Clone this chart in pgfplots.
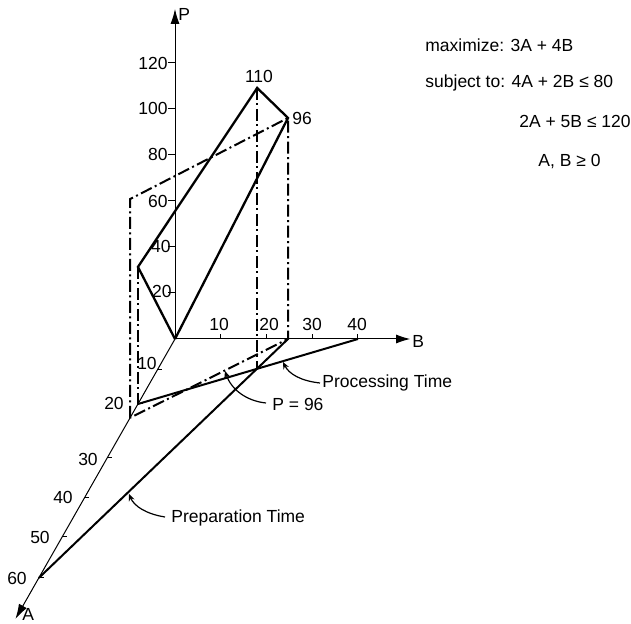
\documentclass[border=0pt]{standalone}
\usepackage{fontspec}
\setmainfont{Liberation Sans}
\usepackage{pgfplots}
\pgfplotsset{compat=1.18}
\usetikzlibrary{arrows.meta,calc}
\tikzset{
  dd/.style={black, line width=1pt, dash pattern=on 6pt off 1.75pt on 1pt off 1.75pt},
  thinax/.style={black, line width=0.5pt},
}
\begin{document}
\begin{tikzpicture}[font=\fontsize{8.75}{10.5}\selectfont]
\begin{axis}[
  hide axis, clip=false,
  x={(-1.14pt,-2pt)}, y={(2.2875pt,0pt)}, z={(0pt,1.15pt)},
  xmin=0,xmax=70,ymin=0,ymax=52,zmin=0,zmax=145,
]
\coordinate (O) at (axis cs:0,0,0);
% axes
\addplot3[thinax, -{Latex[length=7.5pt,width=4.5pt]}] coordinates {(0,0,0) (0,0,143.5)};
\addplot3[thinax, -{Latex[length=7pt,width=4.5pt]}] coordinates {(0,0,0) (0,51.4,0)};
\addplot3[thinax, -{Latex[length=7.5pt,width=4.5pt]}] coordinates {(0,0,0) (70,0,0)};
% objective surface over feasible region (solid)
\addplot3[black, line width=1.15pt, line join=miter] coordinates {(0,0,0) (16.25,0,59.6) (7.5,21.7,122.2) (0,24.7,96.1) (0,0,0)};
% P = 96 wall (dash-dot)
\addplot3[dd] coordinates {(19.7,0,0) (19.7,0,95.1) (0,24.7,96.1) (0,24.7,0) (19.7,0,0)};
\addplot3[dd] coordinates {(16.25,0,59.6) (16.25,0,0)};
\addplot3[dd] coordinates {(7.5,21.7,122.2) (7.5,21.7,0)};
% constraints on base plane
\addplot3[black, line width=1pt] coordinates {(16.25,0,0) (0,40,0)};
\addplot3[black, line width=1pt] coordinates {(59.75,0,0) (0,24.7,0)};
% ticks
\draw[thinax] (axis cs:0,0,20) -- ++(-3.5pt,0);
\draw[thinax] (axis cs:0,0,40) -- ++(-3.5pt,0);
\draw[thinax] (axis cs:0,0,60) -- ++(-3.5pt,0);
\draw[thinax] (axis cs:0,0,80) -- ++(-3.5pt,0);
\draw[thinax] (axis cs:0,0,100) -- ++(-3.5pt,0);
\draw[thinax] (axis cs:0,0,120) -- ++(-3.5pt,0);
\draw[thinax] (axis cs:0,10,0) -- ++(0,2.5pt);
\draw[thinax] (axis cs:0,20,0) -- ++(0,2.5pt);
\draw[thinax] (axis cs:0,30,0) -- ++(0,2.5pt);
\draw[thinax] (axis cs:0,40,0) -- ++(0,2.5pt);
\draw[thinax] (axis cs:7.75,0,0) -- ++(2.5pt,0);
\draw[thinax] (axis cs:16.25,0,0) -- ++(2.5pt,0);
\draw[thinax] (axis cs:29.75,0,0) -- ++(2.5pt,0);
\draw[thinax] (axis cs:39.75,0,0) -- ++(2.5pt,0);
\draw[thinax] (axis cs:49.5,0,0) -- ++(2.5pt,0);
\draw[thinax] (axis cs:59.75,0,0) -- ++(2.5pt,0);
\end{axis}
\pgfresetboundingbox
\begin{scope}[shift={(O)}]
\begin{scope}[x=0.5pt,y=-0.5pt,shift={(-175,-339)}]
\useasboundingbox (0,0) rectangle (631,624);
% axis names
\node[anchor=west,inner sep=0pt] at (178,14) {P};
\node[anchor=west,inner sep=0pt] at (412,341) {B};
\node[anchor=west,inner sep=0pt] at (22,614) {A};
% P tick labels
\node[anchor=east,inner sep=0pt] at (168,63) {120};
\node[anchor=east,inner sep=0pt] at (168,108) {100};
\node[anchor=east,inner sep=0pt] at (168,154) {80};
\node[anchor=east,inner sep=0pt] at (168,201) {60};
\node[anchor=east,inner sep=0pt] at (171,246) {40};
\node[anchor=east,inner sep=0pt] at (172,291) {20};
% B tick labels
\node[inner sep=0pt] at (219,324) {10};
\node[inner sep=0pt] at (269,324) {20};
\node[inner sep=0pt] at (312,324) {30};
\node[inner sep=0pt] at (357,324) {40};
% A tick labels
\node[inner sep=0pt] at (147,363) {10};
\node[inner sep=0pt] at (114,403) {20};
\node[inner sep=0pt] at (88,459) {30};
\node[inner sep=0pt] at (63,497) {40};
\node[inner sep=0pt] at (40,537) {50};
\node[inner sep=0pt] at (17,578) {60};
% vertex labels
\node[inner sep=0pt] at (259,76) {110};
\node[anchor=west,inner sep=0pt] at (292,118) {96};
% annotations
\node[anchor=west,inner sep=0pt] at (322,383) {Processing Time};
\draw[line width=0.6pt, -{Stealth[length=3.5pt,width=3pt]}] (320,383) .. controls (301,381) and (289,374) .. (283,362);
\node[anchor=west,inner sep=0pt] at (272,404) {P = 96};
\draw[line width=0.6pt, -{Stealth[length=3.5pt,width=3pt]}] (266,403) .. controls (246,401) and (231,389) .. (225,371);
\node[anchor=west,inner sep=0pt] at (171,518) {Preparation Time};
\draw[line width=0.6pt, -{Stealth[length=3.5pt,width=3pt]}] (165,517) .. controls (146,514) and (134,506) .. (129,494);
% model
\node[anchor=west,inner sep=0pt] at (425,45) {maximize: 3A + 4B};
\node[anchor=west,inner sep=0pt] at (425,83) {subject to: 4A + 2B ≤ 80};
\node[anchor=west,inner sep=0pt] at (519,121) {2A + 5B ≤ 120};
\node[anchor=west,inner sep=0pt] at (538,162) {A, B ≥ 0};
\end{scope}
\end{scope}
\end{tikzpicture}
\end{document}
